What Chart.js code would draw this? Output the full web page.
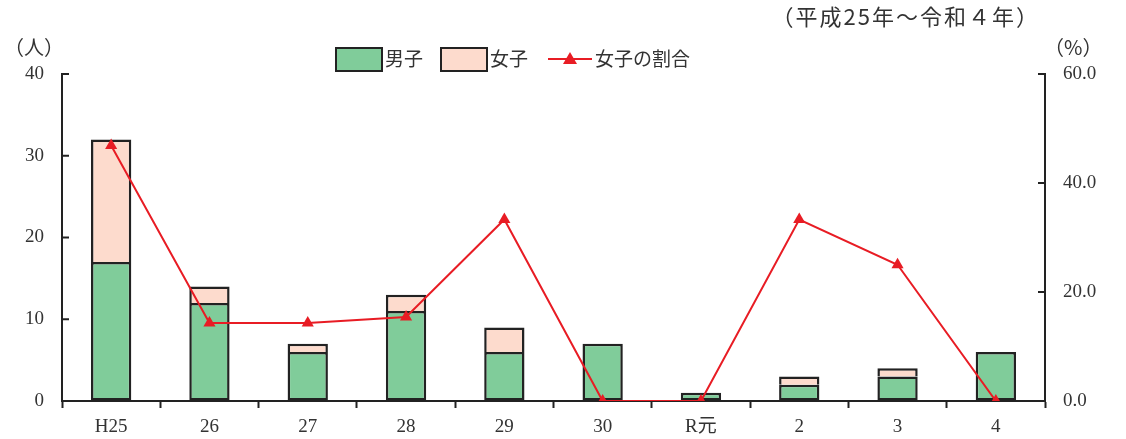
<!DOCTYPE html>
<html>
<head>
<meta charset="utf-8">
<script src="https://cdn.jsdelivr.net/npm/chart.js@4/dist/chart.umd.min.js"></script>
<style>
  html, body { margin: 0; padding: 0; background: #fff; }
</style>
</head>
<body>
<canvas id="chart" width="1126" height="439"></canvas>
<script>
"use strict"

// data
const categories = ['H25', '26', '27', '28', '29', '30', 'R元', '2', '3', '4']
const boys = [17, 12, 6, 11, 6, 7, 1, 2, 3, 6]
const girls = [15, 2, 1, 2, 3, 0, 0, 1, 1, 0]
const girlRatio = [46.9, 14.3, 14.3, 15.4, 33.3, 0, 0, 33.3, 25.0, 0]
const leftTicks = [0, 10, 20, 30, 40]
const rightTicks = [0, 20, 40, 60]

const FONT = '"Liberation Serif", "Noto Sans CJK JP", serif'
const JP = '"Noto Sans CJK JP", sans-serif'
const GREEN = 'rgb(128,204,154)'
const PINK = 'rgb(253,219,205)'
const RED = 'rgb(232,28,36)'
const DARK = '#222'

// inward tick marks, legend and unit labels
const extras = {
  id: 'extras',
  afterDraw(chart) {
    const ctx = chart.ctx
    const y = chart.scales.y
    const y1 = chart.scales.y1
    ctx.save()
    ctx.strokeStyle = DARK
    ctx.lineWidth = 2
    leftTicks.forEach(v => {
      const p = y.getPixelForValue(v)
      ctx.beginPath(); ctx.moveTo(y.right, p); ctx.lineTo(y.right + 7, p); ctx.stroke()
    })
    rightTicks.forEach(v => {
      const p = y1.getPixelForValue(v)
      ctx.beginPath(); ctx.moveTo(y1.left, p); ctx.lineTo(y1.left - 7, p); ctx.stroke()
    })

    ctx.fillStyle = '#333'
    ctx.textBaseline = 'middle'
    ctx.font = '20px ' + JP
    ctx.textAlign = 'left'
    ctx.fillText('（人）', 4, 47)
    ctx.fillText('（%）', 1044, 47)
    ctx.font = '22px ' + JP
    ctx.textAlign = 'right'
    ctx.letterSpacing = '2px'
    ctx.fillText('（平成25年～令和４年）', 1040, 17)
    ctx.letterSpacing = '0px'
    ctx.textAlign = 'left'

    // legend
    ctx.lineWidth = 2
    ctx.fillStyle = GREEN
    ctx.fillRect(336, 48, 46, 23)
    ctx.strokeRect(336, 48, 46, 23)
    ctx.fillStyle = PINK
    ctx.fillRect(441, 48, 46, 23)
    ctx.strokeRect(441, 48, 46, 23)
    ctx.strokeStyle = RED
    ctx.beginPath(); ctx.moveTo(548, 59); ctx.lineTo(592, 59); ctx.stroke()
    ctx.fillStyle = RED
    ctx.beginPath(); ctx.moveTo(570, 52); ctx.lineTo(577, 64); ctx.lineTo(563, 64); ctx.closePath(); ctx.fill()
    ctx.fillStyle = '#333'
    ctx.font = '19px ' + JP
    ctx.fillText('男子', 385, 59)
    ctx.fillText('女子', 490, 59)
    ctx.fillText('女子の割合', 595, 59)
    ctx.restore()
  }
}

new Chart(document.getElementById('chart').getContext('2d'), {
  data: {
    labels: categories,
    datasets: [
      {
        type: 'line',
        label: '女子の割合',
        data: girlRatio,
        yAxisID: 'y1',
        borderColor: RED,
        backgroundColor: RED,
        borderWidth: 2,
        pointStyle: 'triangle',
        pointRadius: 7,
        pointBorderWidth: 0,
        tension: 0,
        order: 0
      },
      {
        type: 'bar',
        label: '男子',
        data: boys,
        backgroundColor: GREEN,
        borderColor: DARK,
        borderWidth: 2.5,
        borderSkipped: false,
        barPercentage: 0.41,
        categoryPercentage: 1,
        order: 1
      },
      {
        type: 'bar',
        label: '女子',
        data: girls,
        backgroundColor: PINK,
        borderColor: DARK,
        borderWidth: 2.5,
        borderSkipped: 'start',
        barPercentage: 0.41,
        categoryPercentage: 1,
        order: 1
      }
    ]
  },
  options: {
    responsive: false,
    animation: false,
    layout: { padding: { top: 74, left: 0, right: 0, bottom: 0 } },
    plugins: {
      legend: { display: false },
      tooltip: { enabled: false }
    },
    scales: {
      x: {
        stacked: true,
        offset: true,
        grid: { offset: true, drawOnChartArea: false, tickLength: 7, tickColor: DARK, tickWidth: 2 },
        border: { display: true, color: DARK, width: 2 },
        ticks: { color: '#333', font: { family: FONT, size: 19 }, padding: 8, maxRotation: 0 },
        afterFit: s => { s.height = 38 }
      },
      y: {
        stacked: true,
        position: 'left',
        min: 0,
        max: 40,
        afterBuildTicks: s => { s.ticks = leftTicks.map(v => ({ value: v })) },
        grid: { drawOnChartArea: false, drawTicks: false },
        border: { display: true, color: DARK, width: 2 },
        ticks: { color: '#333', font: { family: FONT, size: 19 }, padding: 18 },
        afterFit: s => { s.width = 62 }
      },
      y1: {
        position: 'right',
        min: 0,
        max: 60,
        afterBuildTicks: s => { s.ticks = rightTicks.map(v => ({ value: v })) },
        grid: { drawOnChartArea: false, drawTicks: false },
        border: { display: true, color: DARK, width: 2 },
        ticks: {
          color: '#333',
          font: { family: FONT, size: 19 },
          padding: 18,
          callback: v => v.toFixed(1)
        },
        afterFit: s => { s.width = 81 }
      }
    }
  },
  plugins: [extras]
})
</script>
</body>
</html>
